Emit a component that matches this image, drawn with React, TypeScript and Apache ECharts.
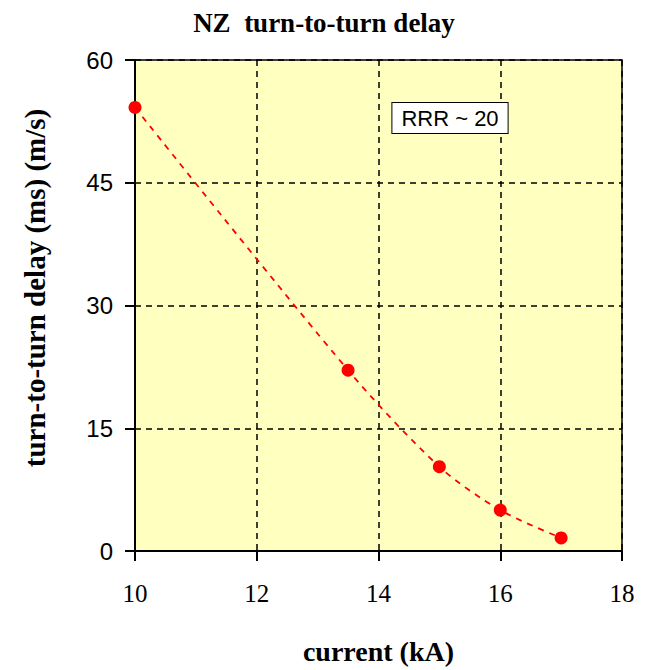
import React, { useEffect, useRef } from "react";
import * as echarts from "echarts";

const currentKA = [10, 13.5, 15, 16, 17];
const delayMs = [54.2, 22.1, 10.3, 5.0, 1.6];
const xTicks = [10, 12, 14, 16, 18];
const yTicks = [0, 15, 30, 45, 60];

export default function App() {
  const ref = useRef<HTMLDivElement>(null);
  useEffect(() => {
    const chart = echarts.init(ref.current!, null, { renderer: "svg" });
    const serif = "'Liberation Serif', 'Times New Roman', serif";
    const sans = "'Liberation Sans', Arial, sans-serif";
    chart.setOption({
      animation: false,
      backgroundColor: "#ffffff",
      title: {
        text: "NZ  turn-to-turn delay",
        left: "center",
        top: 4,
        textStyle: { fontFamily: serif, fontWeight: "bold", fontSize: 27, color: "#000" },
      },
      grid: {
        left: 135,
        right: 26,
        top: 60,
        bottom: 114,
        show: true,
        backgroundColor: "#FFFFC0",
        borderColor: "#000",
        borderWidth: 1.5,
      },
      xAxis: {
        type: "value",
        min: xTicks[0],
        max: xTicks[xTicks.length - 1],
        interval: 2,
        name: "current (kA)",
        nameLocation: "middle",
        nameGap: 86,
        nameTextStyle: { fontFamily: serif, fontWeight: "bold", fontSize: 28, color: "#000" },
        axisLine: { lineStyle: { color: "#000", width: 2 } },
        axisTick: { show: true, inside: false, length: 10, lineStyle: { color: "#000", width: 2 } },
        axisLabel: { fontFamily: serif, fontSize: 25, color: "#000", margin: 30 },
        splitLine: { show: true, lineStyle: { color: "#000", type: [6, 5], width: 1.5 } },
      },
      yAxis: {
        type: "value",
        min: yTicks[0],
        max: yTicks[yTicks.length - 1],
        interval: 15,
        axisLine: { show: true, lineStyle: { color: "#000", width: 2 } },
        axisTick: { show: true, inside: false, length: 10, lineStyle: { color: "#000", width: 2 } },
        axisLabel: { fontFamily: sans, fontSize: 24, color: "#000", margin: 22 },
        splitLine: { show: true, lineStyle: { color: "#000", type: [6, 5], width: 1.5 } },
      },
      graphic: [
        {
          type: "text",
          x: 35,
          y: 288,
          rotation: Math.PI / 2,
          style: {
            text: "turn-to-turn delay (ms) (m/s)",
            fontFamily: serif,
            fontWeight: "bold",
            fontSize: 29,
            fill: "#000",
            textAlign: "center",
            textVerticalAlign: "middle",
          },
        },
        {
          type: "text",
          x: 450,
          y: 118,
          z: 100,
          style: {
            text: "RRR ~ 20",
            fontFamily: sans,
            fontSize: 22,
            fill: "#000",
            textAlign: "center",
            textVerticalAlign: "middle",
            backgroundColor: "#ffffff",
            borderColor: "#000",
            borderWidth: 1,
            padding: [4, 9, 4, 9],
          },
        },
      ],
      series: [
        {
          type: "line",
          data: currentKA.map((x, i) => [x, delayMs[i]]),
          smooth: 0.3,
          symbol: "circle",
          symbolSize: 13,
          itemStyle: { color: "#ff0000" },
          lineStyle: { color: "#ff0000", width: 1.8, type: [6, 6] },
        },
      ],
    });
    return () => chart.dispose();
  }, []);
  return <div ref={ref} style={{ position: "fixed", left: 0, top: 0, width: 648, height: 670 }} />;
}
